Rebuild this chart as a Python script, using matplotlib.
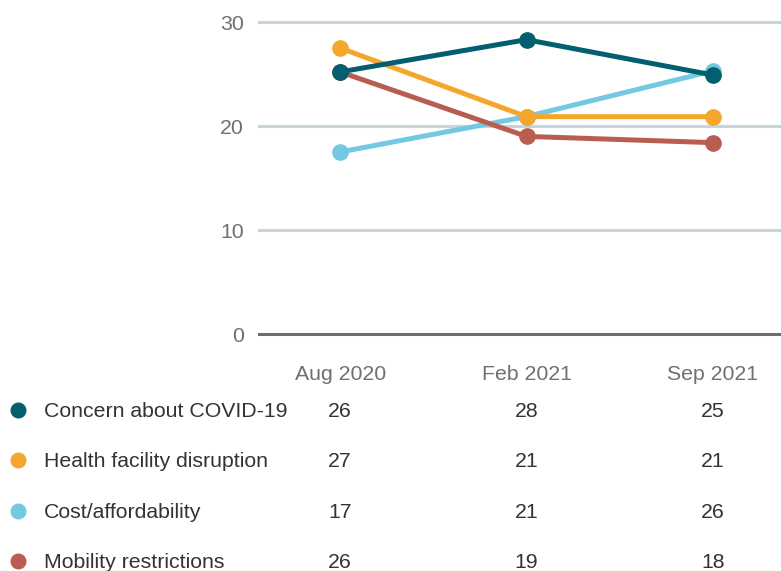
import numpy as np
import matplotlib.pyplot as plt
from matplotlib.transforms import blended_transform_factory

plt.rcParams['font.family'] = ['Liberation Sans', 'DejaVu Sans']

periods = ["Aug 2020", "Feb 2021", "Sep 2021"]

# plotted values
concern = [25.2, 28.3, 24.9]
health = [27.5, 20.9, 20.9]
cost = [17.5, 20.9, 25.3]
mobility = [25.2, 19.0, 18.4]

# rounded values shown in the table below the chart
concern_lbl = [26, 28, 25]
health_lbl = [27, 21, 21]
cost_lbl = [17, 21, 26]
mobility_lbl = [26, 19, 18]

names = ["Concern about COVID-19", "Health facility disruption",
         "Cost/affordability", "Mobility restrictions"]
colors = ["#035e6f", "#f5a72d", "#74c8e1", "#b95d50"]

fig = plt.figure(figsize=(7.81, 5.71), dpi=100)
ax = fig.add_axes([259 / 781, 1 - 334 / 571, 1 - 259 / 781, (334 - 22) / 571])

x = np.arange(len(periods))
ax.set_xlim(-0.435, 2.365)
ax.set_ylim(0, 30)

for yv in [10, 20, 30]:
    ax.axhline(yv, color="#c5d5db", lw=2.2, zorder=1, clip_on=False)
ax.axhline(0, color="#6e6e6e", lw=2.2, zorder=1, clip_on=False)

# drawing order so the overlaps look like the original
series = [(cost, colors[2]), (mobility, colors[3]), (health, colors[1]), (concern, colors[0])]
for vals, c in series:
    ax.plot(x, vals, color=c, lw=3.6, marker="o", markersize=11, zorder=3, clip_on=False)

for s in ax.spines.values():
    s.set_visible(False)
ax.set_yticks([0, 10, 20, 30])
ax.set_xticks(x)
ax.set_xticklabels(periods)
ax.tick_params(length=0, labelsize=15.3, labelcolor="#707070")
ax.tick_params(axis="y", pad=11)
ax.tick_params(axis="x", pad=22)

# table under the chart
trans = blended_transform_factory(ax.transData, fig.transFigure)
rows_y = [410, 460, 511, 561]
labels = [concern_lbl, health_lbl, cost_lbl, mobility_lbl]
for i, name in enumerate(names):
    fy = 1 - rows_y[i] / 571
    ty = 1 - (rows_y[i] + 1.5) / 571
    fig.text(44 / 781, ty, name, fontsize=15.3, color="#333333", va="center", ha="left")
    fig.add_artist(plt.Line2D([18 / 781], [fy], marker="o", markersize=10.5,
                              color=colors[i], transform=fig.transFigure))
    for j, v in enumerate(labels[i]):
        ax.text(x[j], ty, str(v), transform=trans, fontsize=15.3, color="#333333",
                va="center", ha="center")

fig.savefig("out.png", dpi=100)
